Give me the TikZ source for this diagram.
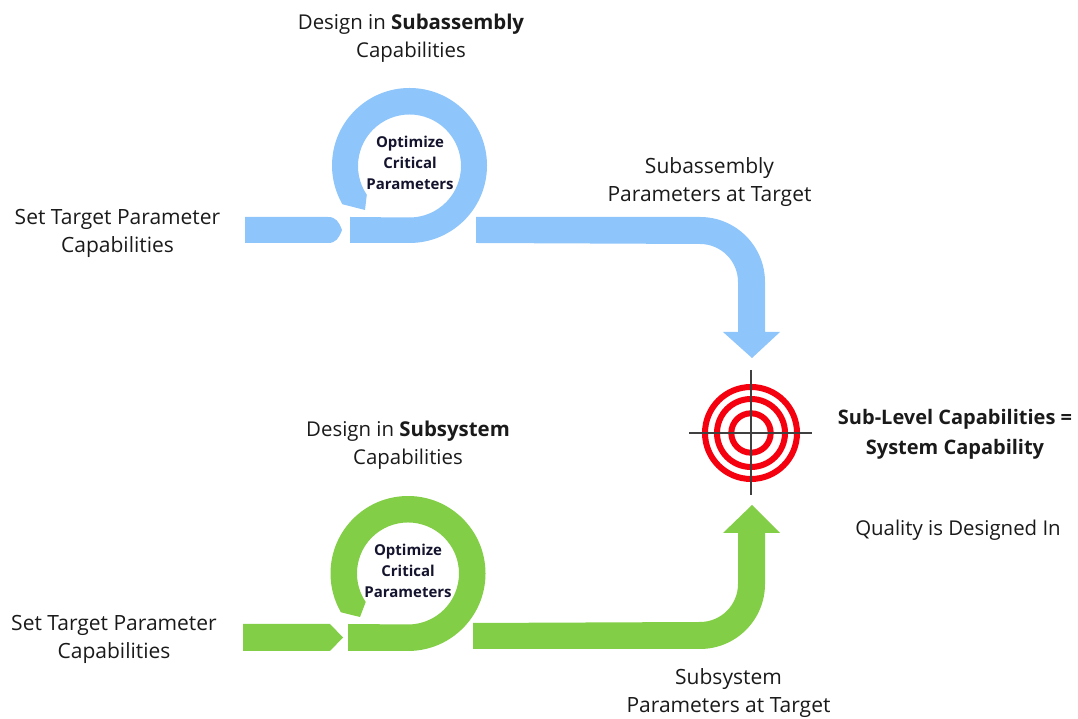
\documentclass[tikz,border=0pt]{standalone}
\usepackage{fontspec}
\setmainfont{Open Sans}
\definecolor{skyfill}{HTML}{8EC5FA}
\definecolor{leaf}{HTML}{82CE46}
\definecolor{bullred}{HTML}{F5000F}
\definecolor{lbl}{HTML}{1A1A1A}
\definecolor{optlbl}{HTML}{14142E}
\tikzset{
  x=1pt,y=1pt,
  lab/.style={text=lbl,font=\fontsize{21}{28}\selectfont,align=center,inner sep=0pt},
  designlab/.style={text=lbl,font=\fontsize{20.4}{28}\selectfont,align=center,inner sep=0pt},
  boldlab/.style={text=lbl,font=\fontsize{20}{30}\selectfont\bfseries,align=center,inner sep=0pt},
  optlab/.style={text=optlbl,font=\fontsize{15}{21}\selectfont\bfseries,align=center,inner sep=0pt},
  skyshape/.style={fill=skyfill,draw=none},
  leafshape/.style={fill=leaf,draw=none},
  ringband/.style={draw=bullred,line width=6pt,fill=none},
  crosshair/.style={draw=black!75,line width=1.4pt}
}
\begin{document}
\begin{tikzpicture}
\useasboundingbox (0,0) rectangle (1078,719);
% blue lead-in
\path[skyshape] (245,476) -- (328,476) .. controls (336,476) and (339,481) .. (342,489)
  .. controls (339,497) and (336,502) .. (328,502) -- (245,502) -- cycle;
% blue loop
\path[skyshape] (350,476) -- (409.5,476) arc[start angle=270,end angle=570,radius=77.5]
  -- (365,509) -- (366.8,524.2) arc[start angle=574,end angle=270,radius=51.5] -- (350,502) -- cycle;
% blue exit arrow
\path[skyshape] (476,502) -- (700,502) arc[start angle=90,end angle=0,radius=65]
  -- (765,387) -- (780,387) -- (752,361) -- (723,387) -- (738,387) -- (738,437)
  arc[start angle=0,end angle=90,radius=38] -- (476,476) -- cycle;
% green lead-in
\path[leafshape] (243,68) -- (330,68) -- (343,81.5) -- (330,95) -- (243,95) -- cycle;
% green loop
\path[leafshape] (348,68) -- (408,68) arc[start angle=270,end angle=570,radius=77.5]
  -- (360,102) -- (365.7,117) arc[start angle=574,end angle=270,radius=51] -- (348,95) -- cycle;
% green exit arrow
\path[leafshape] (473,70) -- (700,70) arc[start angle=-90,end angle=0,radius=65]
  -- (765,186) -- (780,186) -- (752,214) -- (723,186) -- (738,186) -- (738,135)
  arc[start angle=0,end angle=-90,radius=38] -- (473,96) -- cycle;
% target
\draw[ringband] (751,286) circle[radius=46];
\draw[ringband] (751,286) circle[radius=34];
\draw[ringband] (751,286) circle[radius=19.7];
\draw[crosshair] (751,349) -- (751,224);
\draw[crosshair] (689,286) -- (812,286);
% labels
\node[designlab] (t1) at (411,681) {Design in \textbf{Subassembly}\\Capabilities};
\node[lab] (t2) at (117.5,486) {Set Target Parameter\\Capabilities};
\node[optlab] (t3) at (410,556) {Optimize\\Critical\\Parameters};
\node[lab] (t4) at (709.5,537) {Subassembly\\Parameters at Target};
\node[boldlab] (t5) at (955,284.5) {Sub-Level Capabilities =\\System Capability};
\node[designlab] (t6) at (958,189) {Quality is Designed In};
\node[designlab] (t7) at (408,274) {Design in \textbf{Subsystem}\\Capabilities};
\node[optlab] (t8) at (408,148.5) {Optimize\\Critical\\Parameters};
\node[lab] (t9) at (114,80) {Set Target Parameter\\Capabilities};
\node[lab] (t10) at (728.5,26) {Subsystem\\Parameters at Target};
\end{tikzpicture}
\end{document}
